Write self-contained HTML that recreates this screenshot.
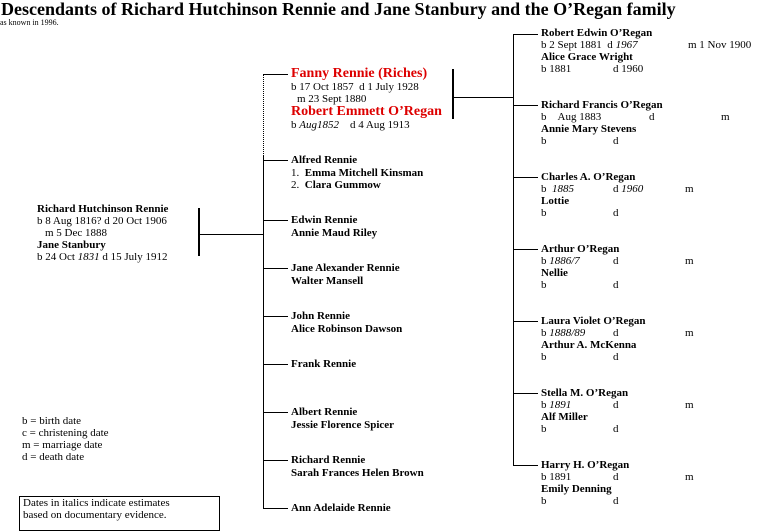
<!DOCTYPE html>
<html><head><meta charset="utf-8"><style>
body{margin:0;width:766px;height:531px;background:#fff;position:relative;overflow:hidden;font-family:"Liberation Serif",serif;color:#000}
.t{position:absolute;font-size:11px;line-height:12px;white-space:nowrap}
.b{font-weight:bold}
.r{color:#d00;font-weight:bold;font-size:14px;line-height:14px}
.h{position:absolute;height:1px;background:#000}
.v{position:absolute;width:1px;background:#000}
.V{position:absolute;width:2px;background:#000}
i{font-style:italic}
</style></head><body>
<div class="t b" style="left:1px;top:0px;font-size:18px;line-height:19px">Descendants of Richard Hutchinson Rennie and Jane Stanbury and the O’Regan family</div>
<div class="t" style="left:0;top:18px;font-size:8px;line-height:10px">as known in 1996.</div>

<!-- left couple -->
<div class="t b" style="left:37px;top:203px">Richard Hutchinson Rennie</div>
<div class="t" style="left:37px;top:215px">b 8 Aug 1816? d 20 Oct 1906</div>
<div class="t" style="left:45px;top:227px">m 5 Dec 1888</div>
<div class="t b" style="left:37px;top:239px">Jane Stanbury</div>
<div class="t" style="left:37px;top:251px">b 24 Oct <i>1831</i> d 15 July 1912</div>
<div class="V" style="left:198px;top:208px;height:48px"></div>
<div class="h" style="left:199px;top:234px;width:64px"></div>

<!-- middle trunk -->
<div style="position:absolute;left:263px;top:74px;height:82px;border-left:1px dotted #000"></div>
<div class="v" style="left:263px;top:156px;height:353px"></div>
<div class="h" style="left:263px;top:74px;width:25px"></div>
<div class="h" style="left:263px;top:160px;width:25px"></div>
<div class="h" style="left:263px;top:220px;width:25px"></div>
<div class="h" style="left:263px;top:268px;width:25px"></div>
<div class="h" style="left:263px;top:316px;width:25px"></div>
<div class="h" style="left:263px;top:364px;width:25px"></div>
<div class="h" style="left:263px;top:412px;width:25px"></div>
<div class="h" style="left:263px;top:460px;width:25px"></div>
<div class="h" style="left:263px;top:508px;width:25px"></div>

<div class="t r" style="left:291px;top:67px">Fanny Rennie (Riches)</div>
<div class="t" style="left:291px;top:81px">b 17 Oct 1857 &nbsp;d 1 July 1928</div>
<div class="t" style="left:297px;top:93px">m 23 Sept 1880</div>
<div class="t r" style="left:291px;top:105px">Robert Emmett O’Regan</div>
<div class="t" style="left:291px;top:119px">b <i>Aug1852</i> &nbsp;&nbsp;&nbsp;d 4 Aug 1913</div>
<div class="V" style="left:452px;top:69px;height:50px"></div>
<div class="h" style="left:453px;top:97px;width:60px"></div>

<div class="t b" style="left:291px;top:154px">Alfred Rennie</div>
<div class="t" style="left:291px;top:167px">1. &nbsp;<b>Emma Mitchell Kinsman</b></div>
<div class="t" style="left:291px;top:179px">2. &nbsp;<b>Clara Gummow</b></div>
<div class="t b" style="left:291px;top:214px">Edwin Rennie</div>
<div class="t b" style="left:291px;top:227px">Annie Maud Riley</div>
<div class="t b" style="left:291px;top:262px">Jane Alexander Rennie</div>
<div class="t b" style="left:291px;top:275px">Walter Mansell</div>
<div class="t b" style="left:291px;top:310px">John Rennie</div>
<div class="t b" style="left:291px;top:323px">Alice Robinson Dawson</div>
<div class="t b" style="left:291px;top:358px">Frank Rennie</div>
<div class="t b" style="left:291px;top:406px">Albert Rennie</div>
<div class="t b" style="left:291px;top:419px">Jessie Florence Spicer</div>
<div class="t b" style="left:291px;top:454px">Richard Rennie</div>
<div class="t b" style="left:291px;top:467px">Sarah Frances Helen Brown</div>
<div class="t b" style="left:291px;top:502px">Ann Adelaide Rennie</div>

<!-- right trunk -->
<div class="v" style="left:513px;top:34px;height:432px"></div>
<div class="h" style="left:513px;top:34px;width:25px"></div>
<div class="h" style="left:513px;top:105px;width:25px"></div>
<div class="h" style="left:513px;top:177px;width:25px"></div>
<div class="h" style="left:513px;top:249px;width:25px"></div>
<div class="h" style="left:513px;top:321px;width:25px"></div>
<div class="h" style="left:513px;top:393px;width:25px"></div>
<div class="h" style="left:513px;top:465px;width:25px"></div>

<div class="t b" style="left:541px;top:27px">Robert Edwin O’Regan</div>
<div class="t" style="left:541px;top:39px">b 2 Sept 1881 &nbsp;d <i>1967</i></div>
<div class="t" style="left:688px;top:39px">m 1 Nov 1900</div>
<div class="t b" style="left:541px;top:51px">Alice Grace Wright</div>
<div class="t" style="left:541px;top:63px">b 1881</div><div class="t" style="left:613px;top:63px">d 1960</div>

<div class="t b" style="left:541px;top:99px">Richard Francis O’Regan</div>
<div class="t" style="left:541px;top:111px">b &nbsp;&nbsp;&nbsp;Aug 1883</div><div class="t" style="left:649px;top:111px">d</div><div class="t" style="left:721px;top:111px">m</div>
<div class="t b" style="left:541px;top:123px">Annie Mary Stevens</div>
<div class="t" style="left:541px;top:135px">b</div><div class="t" style="left:613px;top:135px">d</div>

<div class="t b" style="left:541px;top:171px">Charles A. O’Regan</div>
<div class="t" style="left:541px;top:183px">b &nbsp;<i>1885</i></div><div class="t" style="left:613px;top:183px">d <i>1960</i></div><div class="t" style="left:685px;top:183px">m</div>
<div class="t b" style="left:541px;top:195px">Lottie</div>
<div class="t" style="left:541px;top:207px">b</div><div class="t" style="left:613px;top:207px">d</div>

<div class="t b" style="left:541px;top:243px">Arthur O’Regan</div>
<div class="t" style="left:541px;top:255px">b <i>1886/7</i></div><div class="t" style="left:613px;top:255px">d</div><div class="t" style="left:685px;top:255px">m</div>
<div class="t b" style="left:541px;top:267px">Nellie</div>
<div class="t" style="left:541px;top:279px">b</div><div class="t" style="left:613px;top:279px">d</div>

<div class="t b" style="left:541px;top:315px">Laura Violet O’Regan</div>
<div class="t" style="left:541px;top:327px">b <i>1888/89</i></div><div class="t" style="left:613px;top:327px">d</div><div class="t" style="left:685px;top:327px">m</div>
<div class="t b" style="left:541px;top:339px">Arthur A. McKenna</div>
<div class="t" style="left:541px;top:351px">b</div><div class="t" style="left:613px;top:351px">d</div>

<div class="t b" style="left:541px;top:387px">Stella M. O’Regan</div>
<div class="t" style="left:541px;top:399px">b <i>1891</i></div><div class="t" style="left:613px;top:399px">d</div><div class="t" style="left:685px;top:399px">m</div>
<div class="t b" style="left:541px;top:411px">Alf Miller</div>
<div class="t" style="left:541px;top:423px">b</div><div class="t" style="left:613px;top:423px">d</div>

<div class="t b" style="left:541px;top:459px">Harry H. O’Regan</div>
<div class="t" style="left:541px;top:471px">b 1891</div><div class="t" style="left:613px;top:471px">d</div><div class="t" style="left:685px;top:471px">m</div>
<div class="t b" style="left:541px;top:483px">Emily Denning</div>
<div class="t" style="left:541px;top:495px">b</div><div class="t" style="left:613px;top:495px">d</div>

<!-- legend -->
<div class="t" style="left:22px;top:415px">b = birth date</div>
<div class="t" style="left:22px;top:427px">c = christening date</div>
<div class="t" style="left:22px;top:439px">m = marriage date</div>
<div class="t" style="left:22px;top:451px">d = death date</div>
<div style="position:absolute;left:19px;top:496px;width:199px;height:33px;border:1px solid #000"></div>
<div class="t" style="left:23px;top:497px">Dates in italics indicate estimates</div>
<div class="t" style="left:23px;top:509px">based on documentary evidence.</div>
</body></html>
